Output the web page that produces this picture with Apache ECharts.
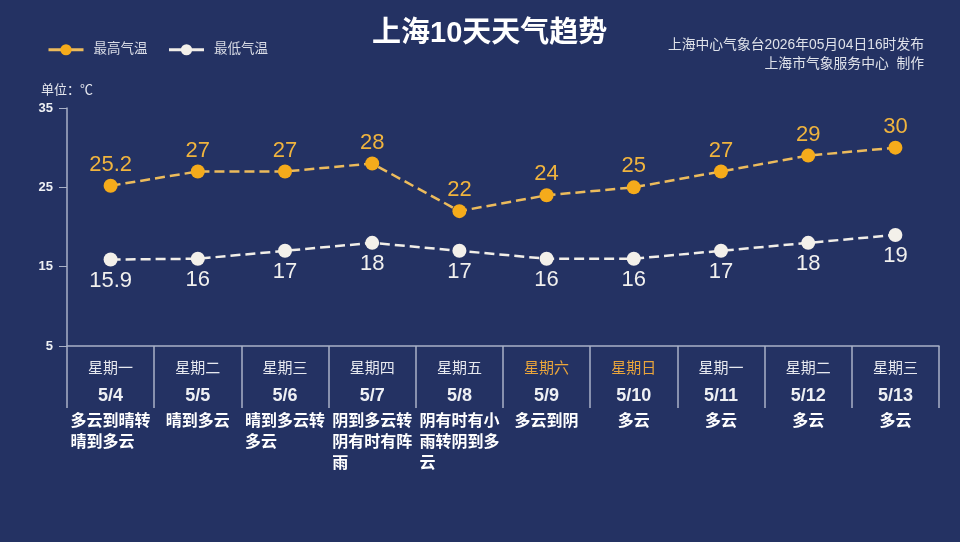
<!DOCTYPE html>
<html>
<head>
<meta charset="utf-8">
<script src="https://cdn.jsdelivr.net/npm/echarts@6/dist/echarts.min.js"></script>
<style>
  html, body { margin: 0; padding: 0; background: #243263; }
  #main { width: 960px; height: 542px; }
</style>
</head>
<body>
<div id="main"></div>
<script>
// 日期、星期、天气
var dates = ['5/4', '5/5', '5/6', '5/7', '5/8', '5/9', '5/10', '5/11', '5/12', '5/13'];
var weekdays = ['星期一', '星期二', '星期三', '星期四', '星期五', '星期六', '星期日', '星期一', '星期二', '星期三'];
var weather = ['多云到晴转晴到多云', '晴到多云', '晴到多云转多云', '阴到多云转阴有时有阵雨', '阴有时有小雨转阴到多云',
  '多云到阴', '多云', '多云', '多云', '多云'];
// 气温
var highTemp = [25.2, 27, 27, 28, 22, 24, 25, 27, 29, 30];
var lowTemp = [15.9, 16, 17, 18, 17, 16, 16, 17, 18, 19];

var FONT = '"Liberation Sans", "Noto Sans CJK SC", sans-serif';
var ORANGE = '#f5ab1b';
var WHITE = '#f3f0ea';
var AXIS = '#a9b1c7';

var myChart = echarts.init(document.getElementById('main'));

// 天气描述每5个字换行，多行时左对齐
function wrap(str) {
  if (str.length <= 5) return '{wc|' + str + '}';
  var lines = [];
  for (var i = 0; i < str.length; i += 5) {
    lines.push('{w|' + str.slice(i, i + 5) + '}');
  }
  return lines.join('\n');
}

var wStyle = { color: '#ffffff', fontSize: 16, fontWeight: 'bold', lineHeight: 21, fontFamily: FONT };

myChart.setOption({
  backgroundColor: '#243263',
  textStyle: { fontFamily: FONT },
  title: {
    text: '上海10天天气趋势',
    left: 367,
    top: 14,
    textStyle: { color: '#ffffff', fontSize: 29, fontWeight: 'bold', fontFamily: FONT }
  },
  graphic: [{
    type: 'text',
    right: 36,
    top: 36,
    style: {
      text: '上海中心气象台2026年05月04日16时发布\n上海市气象服务中心  制作',
      textAlign: 'right',
      fill: '#dfe2ea',
      font: '13.8px ' + FONT,
      lineHeight: 19
    }
  }],
  legend: {
    left: 42,
    top: 38,
    itemWidth: 35,
    itemHeight: 14,
    itemGap: 20,
    lineStyle: { type: 'solid', width: 3 },
    textStyle: { color: '#d9dce6', fontSize: 13.5, padding: [0, 0, 0, 5] },
    data: ['最高气温', '最低气温']
  },
  grid: { left: 67, right: 21, top: 108, bottom: 196 },
  xAxis: {
    type: 'category',
    data: dates,
    boundaryGap: true,
    axisLine: { lineStyle: { color: AXIS, width: 1.5 } },
    axisTick: { show: true, interval: 0, length: 62, lineStyle: { color: AXIS, width: 1.5 } },
    axisLabel: {
      interval: 0,
      margin: 11,
      formatter: function (value, index) {
        var wd = (index === 5 || index === 6) ? 'dayO' : 'dayW';
        return '{' + wd + '|' + weekdays[index] + '}\n{date|' + value + '}\n' + wrap(weather[index]);
      },
      rich: {
        dayW: { color: '#e6e8ef', fontSize: 15, lineHeight: 24, align: 'center', fontFamily: FONT },
        dayO: { color: '#eaa53b', fontSize: 15, lineHeight: 24, align: 'center', fontFamily: FONT },
        date: { color: '#eef0f4', fontSize: 18, fontWeight: 'bold', lineHeight: 30, align: 'center', fontFamily: FONT },
        w: Object.assign({ align: 'left' }, wStyle),
        wc: Object.assign({ align: 'center' }, wStyle)
      }
    }
  },
  yAxis: {
    type: 'value',
    min: 5,
    max: 35,
    interval: 10,
    name: '单位：℃',
    nameGap: 12,
    nameTextStyle: { color: '#e6e8ef', fontSize: 13, align: 'center', fontFamily: '"Noto Sans CJK SC", sans-serif' },
    axisLine: { show: true, lineStyle: { color: AXIS, width: 1.5 } },
    axisTick: { show: true, length: 8, lineStyle: { color: AXIS } },
    splitLine: { show: false },
    axisLabel: { color: '#eef0f4', fontSize: 13, fontWeight: 'bold', margin: 14 }
  },
  series: [
    {
      name: '最高气温',
      type: 'line',
      data: highTemp,
      symbol: 'circle',
      symbolSize: 14,
      itemStyle: { color: ORANGE },
      lineStyle: { color: '#ecbb5c', width: 2.5, type: [10, 5] },
      label: {
        show: true,
        position: 'top',
        distance: 3,
        color: '#f0b43e',
        fontSize: 22,
        fontFamily: FONT
      }
    },
    {
      name: '最低气温',
      type: 'line',
      data: lowTemp,
      symbol: 'circle',
      symbolSize: 14,
      itemStyle: { color: WHITE },
      lineStyle: { color: '#f1eee8', width: 2.5, type: [10, 5] },
      label: {
        show: true,
        position: 'bottom',
        distance: 3,
        color: '#f1f0ee',
        fontSize: 22,
        fontFamily: FONT
      }
    }
  ]
});
</script>
</body>
</html>
